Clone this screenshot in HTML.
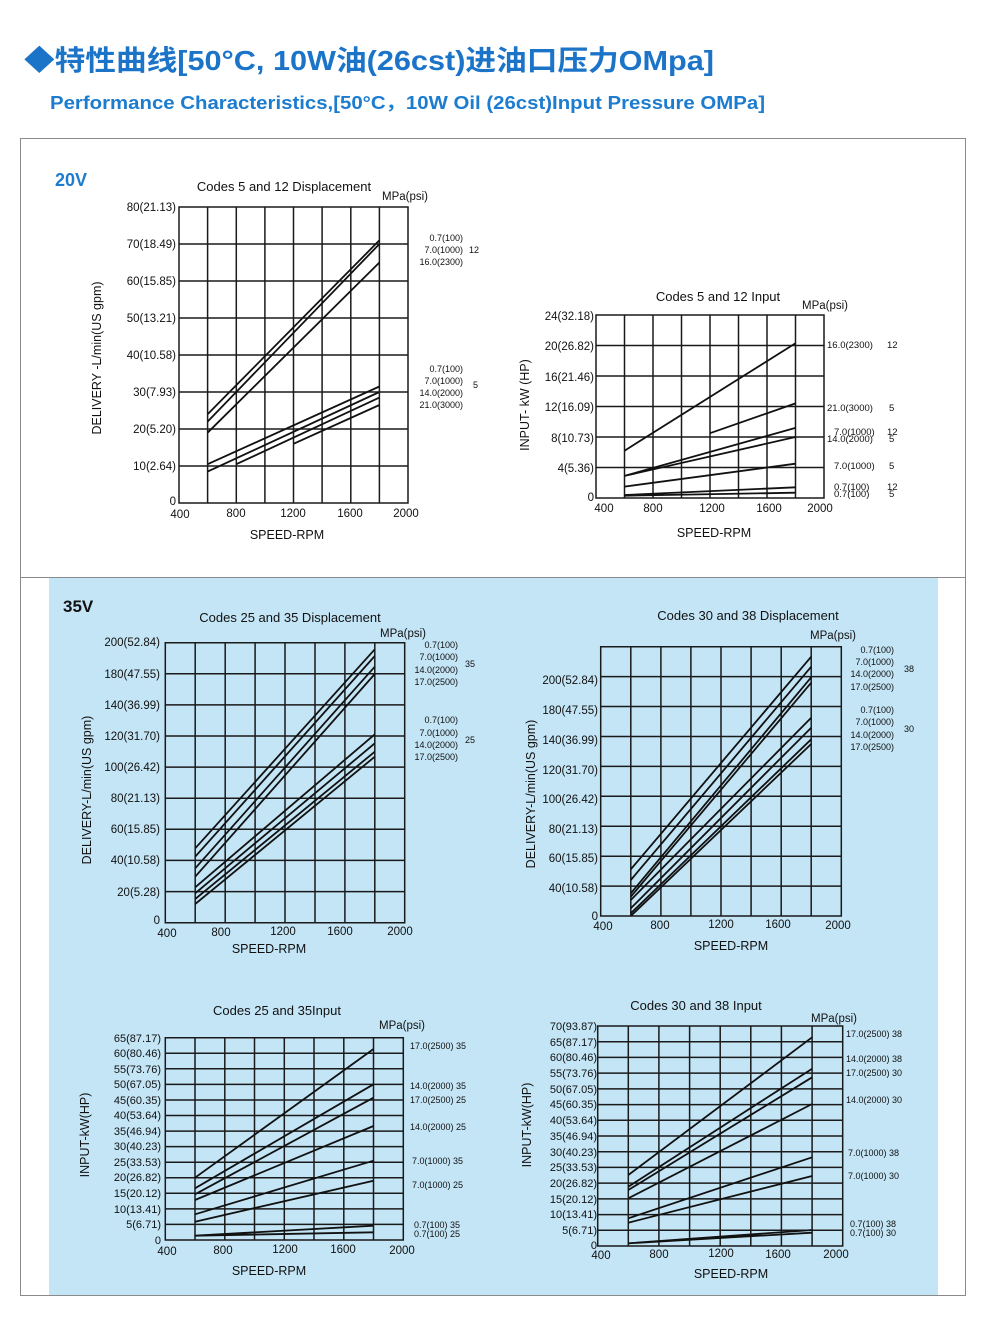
<!DOCTYPE html>
<html><head><meta charset="utf-8"><style>
html,body{margin:0;padding:0;background:#fff;}
svg{display:block;}
text{font-family:"Liberation Sans",Arial,sans-serif;fill:#111;}
.g{stroke:#1a1a1a;stroke-width:1.5;fill:none;}
.c{stroke:#111;stroke-width:1.8;fill:none;}
.yl{font-size:11.5px;text-anchor:end;}
.yl2{font-size:11px;text-anchor:end;}
.xl{font-size:11.5px;text-anchor:middle;}
.t{font-size:13px;text-anchor:middle;}
.ax{font-size:12.5px;text-anchor:middle;}
.sm{font-size:9px;}
.sme{font-size:9px;text-anchor:end;}
.rl{font-size:9.5px;}
</style></head><body>
<svg width="988" height="1324" viewBox="0 0 988 1324" xmlns="http://www.w3.org/2000/svg">
<rect width="988" height="1324" fill="#fff"/>
<!-- header -->
<text x="24" y="70" textLength="690" lengthAdjust="spacingAndGlyphs" style="font-family:'Liberation Sans','Noto Sans CJK SC',sans-serif;font-size:28px;font-weight:bold;fill:#1c74c9">◆特性曲线[50°C, 10W油(26cst)进油口压力OMpa]</text>
<text x="50" y="109" textLength="715" lengthAdjust="spacingAndGlyphs" style="font-family:'Liberation Sans','Noto Sans CJK SC',sans-serif;font-size:18.5px;font-weight:bold;fill:#1c7ccf">Performance Characteristics,[50°C，10W Oil (26cst)Input Pressure OMPa]</text>
<!-- frame -->
<rect x="49" y="578" width="889" height="718" fill="#c4e5f6"/>
<rect x="20.5" y="138.5" width="945" height="1157" fill="none" stroke="#8a8a8a" stroke-width="1"/>
<line x1="20" y1="577.5" x2="966" y2="577.5" stroke="#8a8a8a"/>
<text x="55" y="186" style="font-size:18px;font-weight:bold;fill:#1c7ccf">20V</text>
<text x="63" y="612" style="font-size:17px;font-weight:bold;fill:#111">35V</text>

<!-- Chart A -->
<path class="g" d="M179 207H408V503H179Z M207.6 207V503 M236.3 207V503 M264.9 207V503 M293.5 207V503 M322.1 207V503 M350.8 207V503 M379.4 207V503 M179 244H408 M179 281H408 M179 318H408 M179 355H408 M179 392H408 M179 429H408 M179 466H408"/>
<path class="c" d="M207.6 414.2L379.4 240.3 M207.6 421.6L379.4 244 M207.6 432.7L379.4 262.5 M207.6 464.2L379.4 386.5 M207.6 471.6L379.4 392 M236.3 464.2L379.4 397.6 M293.5 443.8L379.4 405"/>
<g class="yl"><text x="176" y="211">80(21.13)</text><text x="176" y="248">70(18.49)</text><text x="176" y="285">60(15.85)</text><text x="176" y="322">50(13.21)</text><text x="176" y="359">40(10.58)</text><text x="176" y="396">30(7.93)</text><text x="176" y="433">20(5.20)</text><text x="176" y="470">10(2.64)</text><text x="176" y="505">0</text></g>
<g class="xl"><text x="180" y="518">400</text><text x="236" y="517">800</text><text x="293" y="517">1200</text><text x="350" y="517">1600</text><text x="406" y="517">2000</text></g>
<text class="ax" x="287" y="539">SPEED-RPM</text>
<text class="t" x="284" y="191">Codes 5 and 12 Displacement</text>
<text x="382" y="200" style="font-size:11.5px">MPa(psi)</text>
<text class="ax" transform="translate(101,358) rotate(-90)">DELIVERY -L/min(US gpm)</text>
<g class="sme"><text x="463" y="241">0.7(100)</text><text x="463" y="253">7.0(1000)</text><text x="463" y="265">16.0(2300)</text><text x="463" y="372">0.7(100)</text><text x="463" y="384">7.0(1000)</text><text x="463" y="396">14.0(2000)</text><text x="463" y="408">21.0(3000)</text></g>
<text class="sm" x="469" y="253">12</text><text class="sm" x="473" y="388">5</text>

<!-- Chart B -->
<path class="g" d="M596 315H824V498H596Z M624.5 315V498 M653 315V498 M681.5 315V498 M710 315V498 M738.5 315V498 M767 315V498 M795.5 315V498 M596 345.5H824 M596 376H824 M596 406.5H824 M596 437H824 M596 467.5H824"/>
<path class="c" d="M624.5 450.7L795.5 343.2 M710 433.2L795.5 403.4 M624.5 475.9L795.5 427.9 M624.5 475.9L795.5 437 M624.5 486.6L795.5 463.7 M624.5 495L795.5 487.3 M624.5 495.7L795.5 492.7"/>
<g class="yl"><text x="594" y="320">24(32.18)</text><text x="594" y="350">20(26.82)</text><text x="594" y="381">16(21.46)</text><text x="594" y="411">12(16.09)</text><text x="594" y="442">8(10.73)</text><text x="594" y="472">4(5.36)</text><text x="594" y="501">0</text></g>
<g class="xl"><text x="604" y="512">400</text><text x="653" y="512">800</text><text x="712" y="512">1200</text><text x="769" y="512">1600</text><text x="820" y="512">2000</text></g>
<text class="ax" x="714" y="537">SPEED-RPM</text>
<text class="t" x="718" y="301">Codes 5 and 12 Input</text>
<text x="802" y="309" style="font-size:11.5px">MPa(psi)</text>
<text class="ax" transform="translate(529,405) rotate(-90)">INPUT- kW (HP)</text>
<g class="rl"><text x="827" y="348">16.0(2300)</text><text x="887" y="348">12</text>
<text x="827" y="411">21.0(3000)</text><text x="889" y="411">5</text>
<text x="834" y="435">7.0(1000)</text><text x="887" y="435">12</text>
<text x="827" y="442">14.0(2000)</text><text x="889" y="442">5</text>
<text x="834" y="469">7.0(1000)</text><text x="889" y="469">5</text>
<text x="834" y="490">0.7(100)</text><text x="887" y="490">12</text>
<text x="834" y="497">0.7(100)</text><text x="889" y="497">5</text></g>

<!-- Chart C -->
<path class="g" d="M165.3 642.7H404.7V922.7H165.3Z M195.2 642.7V922.7 M225.2 642.7V922.7 M255.1 642.7V922.7 M285 642.7V922.7 M315 642.7V922.7 M344.9 642.7V922.7 M374.8 642.7V922.7 M165.3 673.8H404.7 M165.3 704.9H404.7 M165.3 736H404.7 M165.3 767.1H404.7 M165.3 798.2H404.7 M165.3 829.3H404.7 M165.3 860.4H404.7 M165.3 891.6H404.7"/>
<path class="c" d="M195.2 848.3L374.8 649.3 M195.2 856.7L374.8 656 M195.2 868.3L374.8 666.7 M195.2 876.7L374.8 674 M195.2 887.3L374.8 734.3 M195.2 893.3L374.8 743.3 M195.2 899L374.8 751.7 M195.2 904L374.8 756.7"/>
<g class="yl"><text x="160" y="646">200(52.84)</text><text x="160" y="678">180(47.55)</text><text x="160" y="709">140(36.99)</text><text x="160" y="740">120(31.70)</text><text x="160" y="771">100(26.42)</text><text x="160" y="802">80(21.13)</text><text x="160" y="833">60(15.85)</text><text x="160" y="864">40(10.58)</text><text x="160" y="896">20(5.28)</text><text x="160" y="924">0</text></g>
<g class="xl"><text x="167" y="937">400</text><text x="221" y="936">800</text><text x="283" y="935">1200</text><text x="340" y="935">1600</text><text x="400" y="935">2000</text></g>
<text class="ax" x="269" y="953">SPEED-RPM</text>
<text class="t" x="290" y="622">Codes 25 and 35 Displacement</text>
<text x="380" y="637" style="font-size:11.5px">MPa(psi)</text>
<text class="ax" transform="translate(91,790) rotate(-90)">DELIVERY-L/min(US gpm)</text>
<g class="sme"><text x="458" y="648">0.7(100)</text><text x="458" y="660">7.0(1000)</text><text x="458" y="673">14.0(2000)</text><text x="458" y="685">17.0(2500)</text><text x="458" y="723">0.7(100)</text><text x="458" y="736">7.0(1000)</text><text x="458" y="748">14.0(2000)</text><text x="458" y="760">17.0(2500)</text></g>
<text class="sm" x="465" y="667">35</text><text class="sm" x="465" y="743">25</text>

<!-- Chart D -->
<path class="g" d="M600.7 646.7H841.3V916H600.7Z M630.8 646.7V916 M660.9 646.7V916 M690.9 646.7V916 M721 646.7V916 M751.1 646.7V916 M781.2 646.7V916 M811.2 646.7V916 M600.7 676.6H841.3 M600.7 706.5H841.3 M600.7 736.5H841.3 M600.7 766.4H841.3 M600.7 796.3H841.3 M600.7 826.2H841.3 M600.7 856.2H841.3 M600.7 886.1H841.3"/>
<path class="c" d="M630.8 869.3L811.2 656.7 M630.8 880L811.2 666.7 M630.8 893.3L811.2 677.3 M630.8 896.7L811.2 682.7 M630.8 900L811.2 717.7 M630.8 908.3L811.2 727.7 M630.8 913.3L811.2 739.3 M630.8 916L811.2 744"/>
<g class="yl"><text x="598" y="684">200(52.84)</text><text x="598" y="714">180(47.55)</text><text x="598" y="744">140(36.99)</text><text x="598" y="774">120(31.70)</text><text x="598" y="803">100(26.42)</text><text x="598" y="833">80(21.13)</text><text x="598" y="862">60(15.85)</text><text x="598" y="892">40(10.58)</text><text x="598" y="920">0</text></g>
<g class="xl"><text x="603" y="930">400</text><text x="660" y="929">800</text><text x="721" y="928">1200</text><text x="778" y="928">1600</text><text x="838" y="929">2000</text></g>
<text class="ax" x="731" y="950">SPEED-RPM</text>
<text class="t" x="748" y="620">Codes 30 and 38 Displacement</text>
<text x="810" y="639" style="font-size:11.5px">MPa(psi)</text>
<text class="ax" transform="translate(535,794) rotate(-90)">DELIVERY-L/min(US gpm)</text>
<g class="sme"><text x="894" y="653">0.7(100)</text><text x="894" y="665">7.0(1000)</text><text x="894" y="677">14.0(2000)</text><text x="894" y="690">17.0(2500)</text><text x="894" y="713">0.7(100)</text><text x="894" y="725">7.0(1000)</text><text x="894" y="738">14.0(2000)</text><text x="894" y="750">17.0(2500)</text></g>
<text class="sm" x="904" y="672">38</text><text class="sm" x="904" y="732">30</text>

<!-- Chart E -->
<path class="g" d="M165.3 1037.7H403.3V1240H165.3Z M195 1037.7V1240 M224.8 1037.7V1240 M254.5 1037.7V1240 M284.3 1037.7V1240 M314 1037.7V1240 M343.8 1037.7V1240 M373.5 1037.7V1240 M165.3 1053.3H403.3 M165.3 1068.8H403.3 M165.3 1084.4H403.3 M165.3 1100H403.3 M165.3 1115.5H403.3 M165.3 1131.1H403.3 M165.3 1146.6H403.3 M165.3 1162.2H403.3 M165.3 1177.7H403.3 M165.3 1193.3H403.3 M165.3 1208.9H403.3 M165.3 1224.4H403.3"/>
<path class="c" d="M195 1177.7L373.5 1049 M195 1188.3L373.5 1084.3 M195 1194.3L373.5 1097.7 M195 1200L373.5 1126 M195 1214.3L373.5 1160.7 M195 1221.7L373.5 1180.7 M195 1235.7L373.5 1225.7 M195 1235.7L373.5 1232.3"/>
<g class="yl2"><text x="161" y="1042">65(87.17)</text><text x="161" y="1057">60(80.46)</text><text x="161" y="1073">55(73.76)</text><text x="161" y="1088">50(67.05)</text><text x="161" y="1104">45(60.35)</text><text x="161" y="1119">40(53.64)</text><text x="161" y="1135">35(46.94)</text><text x="161" y="1150">30(40.23)</text><text x="161" y="1166">25(33.53)</text><text x="161" y="1181">20(26.82)</text><text x="161" y="1197">15(20.12)</text><text x="161" y="1213">10(13.41)</text><text x="161" y="1228">5(6.71)</text><text x="161" y="1244">0</text></g>
<g class="xl"><text x="167" y="1255">400</text><text x="223" y="1254">800</text><text x="285" y="1253">1200</text><text x="343" y="1253">1600</text><text x="402" y="1254">2000</text></g>
<text class="ax" x="269" y="1275">SPEED-RPM</text>
<text class="t" x="277" y="1015">Codes 25 and 35Input</text>
<text x="379" y="1029" style="font-size:11.5px">MPa(psi)</text>
<text class="ax" transform="translate(89,1135) rotate(-90)">INPUT-kW(HP)</text>
<g class="sm"><text x="410" y="1049">17.0(2500)  35</text><text x="410" y="1089">14.0(2000)  35</text><text x="410" y="1103">17.0(2500)  25</text><text x="410" y="1130">14.0(2000)  25</text><text x="412" y="1164">7.0(1000)  35</text><text x="412" y="1188">7.0(1000)  25</text><text x="414" y="1228">0.7(100)  35</text><text x="414" y="1237">0.7(100)  25</text></g>

<!-- Chart F -->
<path class="g" d="M597.7 1026H842.7V1246H597.7Z M628.3 1026V1246 M658.9 1026V1246 M689.6 1026V1246 M720.2 1026V1246 M750.8 1026V1246 M781.4 1026V1246 M812.1 1026V1246 M597.7 1041.7H842.7 M597.7 1057.4H842.7 M597.7 1073.1H842.7 M597.7 1088.9H842.7 M597.7 1104.6H842.7 M597.7 1120.3H842.7 M597.7 1136H842.7 M597.7 1151.7H842.7 M597.7 1167.4H842.7 M597.7 1183.1H842.7 M597.7 1198.9H842.7 M597.7 1214.6H842.7 M597.7 1230.3H842.7"/>
<path class="c" d="M628.3 1175L812.1 1037.3 M628.3 1186.7L812.1 1068.7 M628.3 1190L812.1 1077.3 M628.3 1198.3L812.1 1104 M628.3 1218.3L812.1 1157.3 M628.3 1222.7L812.1 1176 M628.3 1243.3L812.1 1230 M628.3 1243.3L812.1 1232.7"/>
<g class="yl2"><text x="597" y="1030">70(93.87)</text><text x="597" y="1046">65(87.17)</text><text x="597" y="1061">60(80.46)</text><text x="597" y="1077">55(73.76)</text><text x="597" y="1093">50(67.05)</text><text x="597" y="1108">45(60.35)</text><text x="597" y="1124">40(53.64)</text><text x="597" y="1140">35(46.94)</text><text x="597" y="1156">30(40.23)</text><text x="597" y="1171">25(33.53)</text><text x="597" y="1187">20(26.82)</text><text x="597" y="1203">15(20.12)</text><text x="597" y="1218">10(13.41)</text><text x="597" y="1234">5(6.71)</text><text x="597" y="1249">0</text></g>
<g class="xl"><text x="601" y="1259">400</text><text x="659" y="1258">800</text><text x="721" y="1257">1200</text><text x="778" y="1258">1600</text><text x="836" y="1258">2000</text></g>
<text class="ax" x="731" y="1278">SPEED-RPM</text>
<text class="t" x="696" y="1010">Codes 30 and 38 Input</text>
<text x="811" y="1022" style="font-size:11.5px">MPa(psi)</text>
<text class="ax" transform="translate(531,1125) rotate(-90)">INPUT-kW(HP)</text>
<g class="sm"><text x="846" y="1037">17.0(2500)  38</text><text x="846" y="1062">14.0(2000)  38</text><text x="846" y="1076">17.0(2500)  30</text><text x="846" y="1103">14.0(2000)  30</text><text x="848" y="1156">7.0(1000)  38</text><text x="848" y="1179">7.0(1000)  30</text><text x="850" y="1227">0.7(100)  38</text><text x="850" y="1236">0.7(100)  30</text></g>
</svg>
</body></html>
